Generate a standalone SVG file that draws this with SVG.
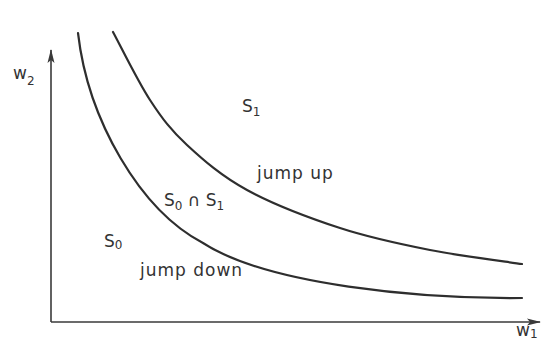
<svg xmlns="http://www.w3.org/2000/svg" width="541" height="343" viewBox="0 0 541 343">
<style>
.ax{stroke:#3a3a3a;stroke-width:1.6;fill:none}
.cv{stroke:#2e2e2e;stroke-width:2.2;fill:none;stroke-linecap:round}
.t{font-family:"DejaVu Sans",sans-serif;fill:#333;font-size:17px}
.lab{letter-spacing:1px}
.sub{font-size:12px}
</style>
<defs>
<marker id="arr" viewBox="0 0 14 8" refX="13" refY="4" markerWidth="14" markerHeight="8" markerUnits="userSpaceOnUse" orient="auto">
<path d="M0,0.5 L14,4 L0,7.5 L3,4 Z" fill="#3a3a3a"/>
</marker>
</defs>
<rect width="541" height="343" fill="#ffffff"/>
<g id="axes">
<line class="ax" x1="51" y1="322" x2="51" y2="50" marker-end="url(#arr)"/>
<line class="ax" x1="51" y1="322" x2="540" y2="322" marker-end="url(#arr)"/>
</g>
<g id="curves">
<path id="curve-down" class="cv" d="M78,33 C88,120 140,210 203,243 C268,285 420,299 522,298"/>
<path id="curve-up" class="cv" d="M113,32 C119.2,43.3 137.7,81.2 150,100 C162.3,118.8 170.8,130 187,145 C203.2,160 221.5,176.2 247,190 C272.5,203.8 309.5,218 340,228 C370.5,238 399.7,244 430,250 C460.3,256 506.7,261.7 522,264"/>
</g>
<g id="labels">
<text class="t" x="13" y="79" font-size="16">w<tspan class="sub" dy="6">2</tspan></text>
<text class="t" x="516" y="336" font-size="16">w<tspan class="sub" dy="2">1</tspan></text>
<text class="t" x="242" y="112" font-size="18">S<tspan class="sub" dy="4">1</tspan></text>
<text class="t" x="164" y="206" font-size="18">S<tspan class="sub" dy="4">0</tspan><tspan dy="-4"> ∩ S</tspan><tspan class="sub" dy="4">1</tspan></text>
<text class="t" x="104" y="247" font-size="18">S<tspan class="sub" dy="2">0</tspan></text>
<text class="t lab" x="257" y="179">jump up</text>
<text class="t lab" x="140" y="276">jump down</text>
</g>
</svg>
